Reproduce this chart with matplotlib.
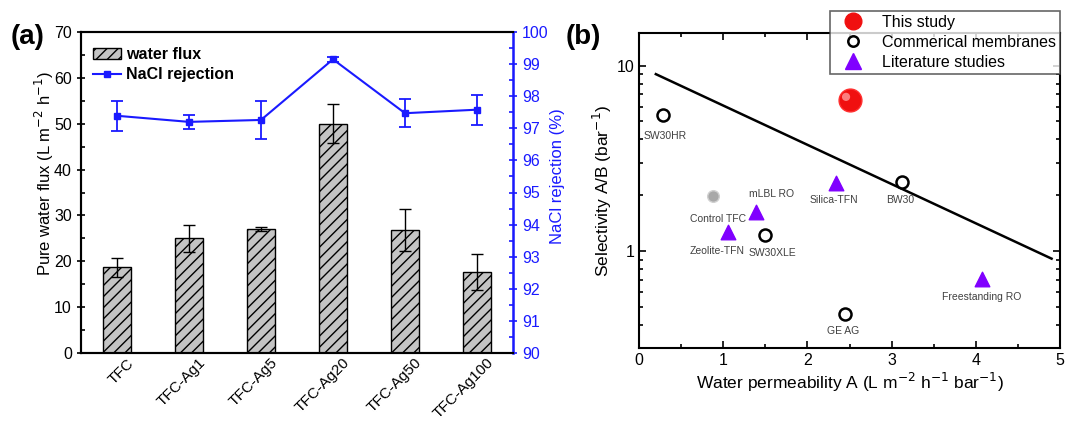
import numpy as np
import matplotlib
matplotlib.use('Agg')
import matplotlib.pyplot as plt
import matplotlib.transforms as mtrans
from matplotlib.lines import Line2D
from matplotlib.patches import Patch
from matplotlib.ticker import MultipleLocator, FixedLocator, NullFormatter

plt.rcParams['font.family'] = ['Liberation Sans', 'DejaVu Sans']
plt.rcParams['hatch.linewidth'] = 1.0

# panel (a) data
muestras = ['TFC', 'TFC-Ag1', 'TFC-Ag5', 'TFC-Ag20', 'TFC-Ag50', 'TFC-Ag100']
flujo = [18.7, 25.0, 27.0, 50.0, 26.8, 17.7]
flujo_err = [2.1, 3.0, 0.4, 4.2, 4.5, 3.9]
rechazo = [97.39, 97.20, 97.26, 99.15, 97.47, 97.58]
rechazo_err = [0.46, 0.21, 0.59, 0.08, 0.43, 0.47]

# panel (b) data
este_A = [2.5]
este_S = [6.5]
control_A = [0.88]
control_S = [1.98]
comercial_nombres = ['SW30HR', 'BW30', 'SW30XLE', 'GE AG']
comercial_A = [0.28, 3.12, 1.50, 2.45]
comercial_S = [5.4, 2.36, 1.22, 0.46]
literatura_nombres = ['Silica-TFN', 'mLBL RO', 'Zeolite-TFN', 'Freestanding RO']
literatura_A = [2.34, 1.39, 1.06, 4.07]
literatura_S = [2.34, 1.63, 1.26, 0.71]
limite_A = [0.2, 4.9]
limite_S = [9.0, 0.91]

azul = '#1a1aff'
gris_txt = '#404040'

fig = plt.figure(figsize=(10.65, 4.21), dpi=100)
ax1 = fig.add_axes([81/1065, 1-353/421, 432/1065, 321/421])
ax2 = ax1.twinx()

x = np.arange(len(muestras))
ax1.bar(x, flujo, width=0.4, color='#c4c4c4', edgecolor='black', hatch='///',
        linewidth=1.0, zorder=2)
ax1.errorbar(x, flujo, yerr=flujo_err, fmt='none', ecolor='black', elinewidth=1.0,
             capsize=4, capthick=1.0, zorder=3)
ax2.errorbar(x, rechazo, yerr=rechazo_err, color=azul, marker='s', markersize=5,
             linewidth=1.5, elinewidth=1.3, capsize=4, capthick=1.3, zorder=4)

ax1.set_xlim(-0.5, 5.5)
ax1.set_ylim(0, 70)
ax2.set_ylim(90, 100)
ax1.set_xticks(x)
ax1.set_xticklabels(muestras, rotation=45, ha='right', rotation_mode='anchor', fontsize=11)
ax1.tick_params(axis='x', length=0, pad=2)
desplaza = mtrans.ScaledTranslation(7/72, 0, fig.dpi_scale_trans)
for lab in ax1.get_xticklabels():
    lab.set_transform(lab.get_transform() + desplaza)
ax1.yaxis.set_major_locator(MultipleLocator(10))
ax1.yaxis.set_minor_locator(MultipleLocator(5))
ax1.tick_params(axis='y', which='major', direction='inout', length=6, width=1.2, labelsize=11.5)
ax1.tick_params(axis='y', which='minor', direction='in', length=3, width=1.2)
ax1.set_ylabel('Pure water flux (L m$^{-2}$ h$^{-1}$)', fontsize=12)
ax1.yaxis.set_label_coords(-0.058, 0.56)

ax2.yaxis.set_major_locator(MultipleLocator(1))
ax2.yaxis.set_minor_locator(MultipleLocator(0.5))
ax2.tick_params(axis='y', which='major', direction='inout', length=6, width=1.2,
                colors=azul, labelsize=11.5)
ax2.tick_params(axis='y', which='minor', direction='in', length=3, width=1.2, colors=azul)
ax2.set_ylabel('NaCl rejection (%)', color=azul, fontsize=12)
ax2.yaxis.set_label_coords(1.085, 0.55)
ax2.spines['right'].set_color(azul)
ax2.spines['right'].set_linewidth(1.8)
for s in ['left', 'bottom', 'top']:
    ax1.spines[s].set_linewidth(1.5)
    ax2.spines[s].set_linewidth(1.5)

h1 = Patch(facecolor='#c4c4c4', edgecolor='black', hatch='///')
h2 = Line2D([], [], color=azul, marker='s', markersize=5, linewidth=1.5)
ax1.legend([h1, h2], ['water flux', 'NaCl rejection'], loc='upper left',
           bbox_to_anchor=(0.012, 0.972), frameon=False, handlelength=1.8,
           handletextpad=0.3, labelspacing=0.3, borderaxespad=0.0,
           prop={'weight': 'bold', 'size': 11.5})

fig.text(11/1065, 1-37/421, '(a)', fontsize=20, fontweight='bold', va='center')

# panel (b)
ax3 = fig.add_axes([639/1065, 1-348/421, 421/1065, 315/421])
ax3.set_yscale('log')
ax3.plot(limite_A, limite_S, color='black', linewidth=1.8, zorder=2)
ax3.scatter(control_A, control_S, s=70, color='#a8a8a8', edgecolors='#d0d0d0',
            linewidths=1.0, zorder=3)
ax3.scatter(comercial_A, comercial_S, s=75, facecolors='white', edgecolors='black',
            linewidths=1.8, zorder=3)
ax3.scatter(literatura_A, literatura_S, s=110, marker='^', color='#8000ff',
            edgecolors='#8000ff', zorder=3)
ax3.scatter(este_A, este_S, s=270, color='#f01010', edgecolors='#ff3030', zorder=4)
brillo = mtrans.ScaledTranslation(-2.5/72, 2.5/72, fig.dpi_scale_trans)
ax3.scatter(este_A, este_S, s=35, color='#ff9a9a', edgecolors='none', alpha=0.8,
            transform=ax3.transData + brillo, zorder=5)

etiquetas = {'SW30HR': (0.03, -0.11), 'BW30': (-0.02, -0.095), 'SW30XLE': (0.09, -0.095),
             'GE AG': (-0.02, -0.095), 'Silica-TFN': (-0.02, -0.095),
             'mLBL RO': (0.18, 0.095), 'Zeolite-TFN': (-0.13, -0.1),
             'Freestanding RO': (0.0, -0.1)}
for nombre, a, s in zip(comercial_nombres + literatura_nombres,
                        comercial_A + literatura_A, comercial_S + literatura_S):
    dx, dy = etiquetas[nombre]
    ax3.text(a + dx, s * 10**dy, nombre, fontsize=7.5, color=gris_txt,
             ha='center', va='center')
ax3.text(control_A[0] + 0.06, control_S[0] * 10**-0.125, 'Control TFC', fontsize=7.5,
         color=gris_txt, ha='center', va='center')

ax3.set_xlim(0, 5)
ax3.set_ylim(0.3, 15)
ax3.xaxis.set_major_locator(MultipleLocator(1))
ax3.xaxis.set_minor_locator(MultipleLocator(0.5))
ax3.yaxis.set_major_locator(FixedLocator([1, 10]))
ax3.yaxis.set_minor_locator(FixedLocator([0.3, 0.4, 0.5, 0.6, 0.7, 0.8, 0.9,
                                          2, 3, 4, 5, 6, 7, 8, 9]))
ax3.yaxis.set_minor_formatter(NullFormatter())
ax3.set_yticklabels(['1', '10'])
ax3.tick_params(which='major', direction='in', length=5, width=1.2, labelsize=11.5,
                right=True, top=True)
ax3.tick_params(which='minor', direction='in', length=3, width=1.2, right=True, top=True)
for s in ax3.spines.values():
    s.set_linewidth(1.5)
ax3.set_xlabel('Water permeability A (L m$^{-2}$ h$^{-1}$ bar$^{-1}$)', fontsize=12.5, labelpad=2)
ax3.set_ylabel('Selectivity A/B (bar$^{-1}$)', fontsize=12.5, labelpad=2)

l1 = Line2D([], [], linestyle='none', marker='o', markersize=12, color='#f01010')
l2 = Line2D([], [], linestyle='none', marker='o', markersize=7.5, markerfacecolor='white',
            markeredgecolor='black', markeredgewidth=1.8)
l3 = Line2D([], [], linestyle='none', marker='^', markersize=11, color='#8000ff')
leg = fig.legend([l1, l2, l3], ['This study', 'Commerical membranes', 'Literature studies'],
                 loc='upper right', bbox_to_anchor=(1060/1065, 1-11/421), fontsize=11.5,
                 frameon=True, fancybox=False, edgecolor='#404040', borderpad=0.25,
                 labelspacing=0.3, handletextpad=0.6, borderaxespad=0.0,
                 handlelength=2.4)
leg.get_frame().set_linewidth(1.2)

fig.text(566/1065, 1-37/421, '(b)', fontsize=20, fontweight='bold', va='center')

fig.savefig('out.png', dpi=100)
